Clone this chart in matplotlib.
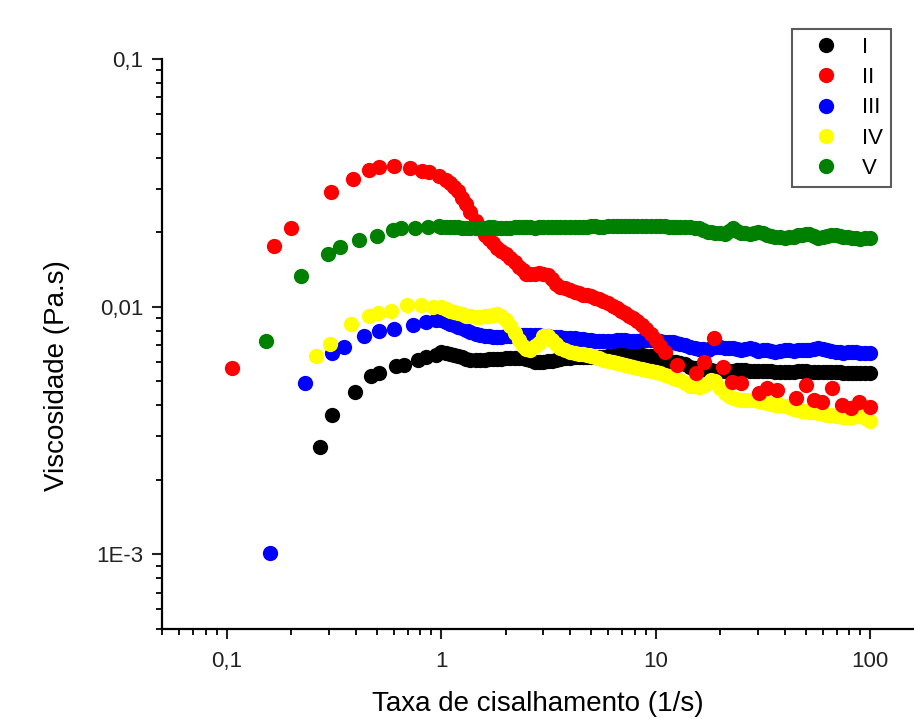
import matplotlib
matplotlib.use('Agg')
import matplotlib.pyplot as plt
from matplotlib.ticker import LogLocator, NullFormatter

plt.rcParams['font.family'] = ['Liberation Sans', 'DejaVu Sans']

# shared shear rate grid (1/s) for the dense part of the curves (1 to 100)
shear_rate = [1.0, 1.05, 1.1, 1.15, 1.2, 1.25, 1.3, 1.37, 1.45, 1.52,
              1.6, 1.67, 1.75, 1.82, 1.9, 2.0, 2.1, 2.2, 2.3, 2.4,
              2.5, 2.6, 2.75, 2.87, 3.0, 3.15, 3.3, 3.45, 3.6, 3.8,
              4.0, 4.2, 4.4, 4.6, 4.8, 5.0, 5.2, 5.45, 5.7, 6.0,
              6.3, 6.6, 6.9, 7.2, 7.5, 7.85, 8.2, 8.6, 9.0, 9.5,
              10, 10.5, 11, 11.5, 12, 12.5, 13, 13.7, 14.5, 15.2,
              16, 16.7, 17.5, 18.2, 19, 20, 21, 22, 23, 24,
              25, 26.2, 27.5, 28.7, 30, 31.5, 33, 34.5, 36, 38,
              40, 42, 44, 46, 48, 50, 52, 54.5, 57, 60,
              63, 66, 69, 72, 75, 78.5, 82, 86, 90, 95,
              100]

# I (black)
x_low_1 = [0.273, 0.311, 0.395, 0.472, 0.516, 0.617, 0.675, 0.778, 0.851, 0.948]
y_low_1 = [0.00271, 0.00366, 0.00452, 0.00526, 0.0054, 0.00574, 0.00583, 0.00611, 0.00626, 0.0064]
visc_1 = [0.00658, 0.00652, 0.00646, 0.0064, 0.00634, 0.00625, 0.00617, 0.00611, 0.00611, 0.00611,
          0.00611, 0.00614, 0.00617, 0.00617, 0.00617, 0.0062, 0.00622, 0.00622, 0.00622, 0.0062,
          0.00617, 0.00611, 0.00599, 0.00599, 0.00599, 0.00602, 0.00605, 0.00611, 0.00617, 0.0062,
          0.00622, 0.00625, 0.00628, 0.00628, 0.00628, 0.00628, 0.00628, 0.00628, 0.00628, 0.00631,
          0.00634, 0.00637, 0.0064, 0.00637, 0.00634, 0.00637, 0.0064, 0.00637, 0.00634, 0.00631,
          0.00628, 0.0062, 0.00611, 0.00605, 0.00599, 0.00597, 0.00594, 0.00585, 0.00573, 0.00567,
          0.00562, 0.0056, 0.00557, 0.00555, 0.00552, 0.00552, 0.00552, 0.00552, 0.00552, 0.00555,
          0.00557, 0.00555, 0.00552, 0.00552, 0.00552, 0.00552, 0.00552, 0.0055, 0.00547, 0.00547,
          0.00547, 0.00547, 0.00547, 0.0055, 0.00552, 0.0055, 0.00547, 0.00547, 0.00547, 0.00547,
          0.00547, 0.00547, 0.00547, 0.00545, 0.00542, 0.00542, 0.00542, 0.00542, 0.00542, 0.00542,
          0.00542]

# II (red) - own shear rates, scattered at high rates
x_2 = [0.106, 0.166, 0.200, 0.307, 0.388, 0.463, 0.512, 0.601, 0.714, 0.816, 0.882, 0.98,
       1.05, 1.1, 1.15, 1.2, 1.25, 1.3, 1.37, 1.45, 1.52, 1.6,
       1.67, 1.75, 1.82, 1.9, 2.0, 2.1, 2.2, 2.3, 2.4, 2.5,
       2.6, 2.75, 2.87, 3.0, 3.15, 3.3, 3.45, 3.6, 3.8, 4.0,
       4.2, 4.4, 4.6, 4.8, 5.0, 5.2, 5.45, 5.7, 6.0, 6.3,
       6.6, 6.9, 7.2, 7.5, 7.85, 8.2, 8.6, 9.0, 9.5, 10,
       10.5, 11,
       12.6, 15.5, 16.8, 18.8, 20.6, 22.7, 25.0, 30.4, 33.1, 36.9, 45.2, 50.3, 54.8, 59.7,
       66.5, 74.0, 81.5, 88.8, 100]
y_2 = [0.00567, 0.0176, 0.0207, 0.0291, 0.0328, 0.0358, 0.0367, 0.0371, 0.0363, 0.0354, 0.0349, 0.0336,
       0.0326, 0.0317, 0.0303, 0.0292, 0.0276, 0.0261, 0.0242, 0.0221, 0.0207, 0.0194,
       0.0188, 0.0180, 0.0173, 0.0168, 0.0164, 0.0158, 0.0152, 0.0145, 0.0141, 0.0136,
       0.0135, 0.0136, 0.0137, 0.0135, 0.0134, 0.0130, 0.0124, 0.0120, 0.0119, 0.0117,
       0.0115, 0.0114, 0.0112, 0.0111, 0.0110, 0.0108, 0.0107, 0.0105, 0.0104, 0.0101,
       0.0099, 0.00963, 0.00946, 0.0092, 0.00903, 0.00878, 0.00846, 0.00815, 0.00778, 0.00736,
       0.00696, 0.00658,
       0.00583, 0.00541, 0.0060, 0.00749, 0.00572, 0.00498, 0.00493, 0.00449, 0.00471, 0.00462,
       0.00429, 0.00484, 0.00421, 0.00413, 0.00471, 0.00402, 0.00391, 0.00413, 0.00394]

# III (blue)
x_low_3 = [0.159, 0.233, 0.311, 0.354, 0.436, 0.516, 0.606, 0.738, 0.851, 0.948]
y_low_3 = [0.00101, 0.00494, 0.0065, 0.00688, 0.00764, 0.00795, 0.00813, 0.0084, 0.00864, 0.0088]
visc_3 = [0.0088, 0.00867, 0.00854, 0.00842, 0.0083, 0.00818, 0.00807, 0.00792, 0.00778, 0.0077,
          0.00763, 0.0076, 0.00756, 0.00756, 0.00756, 0.0076, 0.00763, 0.00767, 0.0077, 0.0077,
          0.0077, 0.0077, 0.0077, 0.00767, 0.00763, 0.0076, 0.00756, 0.00754, 0.00752, 0.0075,
          0.00749, 0.00745, 0.00742, 0.00739, 0.00736, 0.00733, 0.00729, 0.00729, 0.00729, 0.00729,
          0.00729, 0.00733, 0.00736, 0.00733, 0.00729, 0.00729, 0.00729, 0.00733, 0.00736, 0.00736,
          0.00736, 0.00729, 0.00722, 0.00722, 0.00722, 0.00716, 0.00709, 0.007, 0.00689, 0.00683,
          0.00677, 0.00674, 0.0067, 0.0068, 0.00689, 0.00686, 0.00683, 0.00683, 0.00683, 0.00677,
          0.0067, 0.00677, 0.00683, 0.00674, 0.00664, 0.00667, 0.0067, 0.00664, 0.00658, 0.00664,
          0.0067, 0.00667, 0.00664, 0.00667, 0.0067, 0.0067, 0.0067, 0.00677, 0.00683, 0.00677,
          0.0067, 0.00664, 0.00658, 0.00655, 0.00652, 0.00655, 0.00658, 0.00655, 0.00652, 0.00652,
          0.00652]

# IV (yellow)
x_low_4 = [0.260, 0.302, 0.381, 0.463, 0.507, 0.585, 0.692, 0.807, 0.914]
y_low_4 = [0.0063, 0.00709, 0.00851, 0.00914, 0.00943, 0.00957, 0.0102, 0.0102, 0.0100]
visc_4 = [0.0100, 0.0098, 0.00963, 0.00955, 0.00946, 0.00933, 0.0092, 0.00915, 0.00911, 0.00911,
          0.00915, 0.0092, 0.00928, 0.00937, 0.0092, 0.00886, 0.00838, 0.0078, 0.00736, 0.00696,
          0.00677, 0.0067, 0.00696, 0.00716, 0.00763, 0.0076, 0.00736, 0.0071, 0.00683, 0.00667,
          0.00658, 0.00652, 0.00646, 0.00643, 0.0064, 0.00634, 0.00628, 0.0062, 0.00611, 0.00605,
          0.00599, 0.00594, 0.00589, 0.00583, 0.00578, 0.00572, 0.00567, 0.00562, 0.00557, 0.00552,
          0.00547, 0.0054, 0.00532, 0.00524, 0.00517, 0.00512, 0.00507, 0.00493, 0.0048, 0.00477,
          0.00475, 0.0048, 0.00493, 0.00505, 0.005, 0.0047, 0.0045, 0.00438, 0.00429, 0.00425,
          0.00421, 0.00421, 0.00421, 0.00419, 0.00417, 0.00413, 0.00409, 0.00405, 0.00402, 0.004,
          0.00398, 0.00393, 0.00388, 0.00384, 0.0038, 0.00378, 0.00377, 0.00376, 0.00374, 0.0037,
          0.00367, 0.00365, 0.00363, 0.00361, 0.00359, 0.00359, 0.00359, 0.00361, 0.00363, 0.00355,
          0.00346]

# V (green)
x_low_5 = [0.152, 0.223, 0.296, 0.339, 0.416, 0.503, 0.595, 0.651, 0.757, 0.866, 0.98]
y_low_5 = [0.00729, 0.01335, 0.01637, 0.01736, 0.01865, 0.01923, 0.02034, 0.0207, 0.0208, 0.0210, 0.0211]
visc_5 = [0.0210, 0.0210, 0.0209, 0.0209, 0.0209, 0.0208, 0.0208, 0.0208, 0.0208, 0.0208,
          0.0208, 0.0209, 0.0209, 0.0208, 0.0208, 0.0208, 0.0208, 0.0209, 0.0209, 0.0209,
          0.0209, 0.0209, 0.0208, 0.0209, 0.0209, 0.0209, 0.0209, 0.0210, 0.0210, 0.0209,
          0.0209, 0.0210, 0.0210, 0.0210, 0.0210, 0.0211, 0.0211, 0.0210, 0.0210, 0.0211,
          0.0211, 0.0211, 0.0211, 0.0212, 0.0212, 0.0212, 0.0212, 0.0211, 0.0211, 0.0211,
          0.0211, 0.0211, 0.0211, 0.0210, 0.0210, 0.0210, 0.0209, 0.0209, 0.0209, 0.0208,
          0.0207, 0.0204, 0.0201, 0.0200, 0.0199, 0.0198, 0.0197, 0.0202, 0.0207, 0.0203,
          0.0199, 0.0198, 0.0197, 0.0199, 0.0201, 0.0198, 0.0195, 0.0193, 0.0192, 0.0191,
          0.0190, 0.0191, 0.0192, 0.0194, 0.0195, 0.0196, 0.0197, 0.0193, 0.0190, 0.0191,
          0.0193, 0.0194, 0.0195, 0.0193, 0.0192, 0.0191, 0.0190, 0.0189, 0.0188, 0.0189,
          0.0190]

fig = plt.figure(figsize=(9.14, 7.19), dpi=100)
ax = fig.add_axes([0.1772, 0.1252, 0.8228, 0.7927])

ms = 11
h1, = ax.plot(x_low_1 + shear_rate, y_low_1 + visc_1, 'o', color='black', ms=ms, mew=0, label='I')
h3, = ax.plot(x_low_3 + shear_rate, y_low_3 + visc_3, 'o', color='#0000FF', ms=ms, mew=0, label='III')
h4, = ax.plot(x_low_4 + shear_rate, y_low_4 + visc_4, 'o', color='#FFFF00', ms=ms, mew=0, label='IV')
h2, = ax.plot(x_2, y_2, 'o', color='#FF0000', ms=ms, mew=0, label='II')
h5, = ax.plot(x_low_5 + shear_rate, y_low_5 + visc_5, 'o', color='#008000', ms=ms, mew=0, label='V')

ax.set_xscale('log')
ax.set_yscale('log')
ax.set_xlim(0.05, 160)
ax.set_ylim(5e-4, 0.1)

ax.set_xticks([0.1, 1, 10, 100], ['0,1', '1', '10', '100'])
ax.set_yticks([1e-3, 0.01, 0.1], ['1E-3', '0,01', '0,1'])
ax.xaxis.set_minor_locator(LogLocator(base=10, subs=range(2, 10)))
ax.yaxis.set_minor_locator(LogLocator(base=10, subs=range(2, 10)))
ax.xaxis.set_minor_formatter(NullFormatter())
ax.yaxis.set_minor_formatter(NullFormatter())

for s in ['top', 'right']:
    ax.spines[s].set_visible(False)
for s in ['left', 'bottom']:
    ax.spines[s].set_linewidth(1.6)
ax.tick_params(which='major', direction='out', length=7.5, width=1.5, labelsize=16, colors='#222222')
ax.tick_params(which='minor', direction='out', length=4.5, width=1.3)
ax.tick_params(axis='x', which='major', pad=8)
ax.tick_params(axis='y', which='major', pad=6)

ax.set_xlabel('Taxa de cisalhamento (1/s)', fontsize=20, labelpad=14)
ax.set_ylabel('Viscosidade (Pa.s)', fontsize=20)
ax.yaxis.set_label_coords(-0.122, 0.444)

leg = ax.legend(handles=[h1, h2, h3, h4, h5], loc='upper right',
                bbox_to_anchor=(891 / 914, 1 - 29 / 719), bbox_transform=fig.transFigure,
                borderaxespad=0, fancybox=False, fontsize=16, labelspacing=0.42,
                handletextpad=0.44, borderpad=0.35, handlelength=2.36)
leg.get_frame().set_edgecolor('#333333')
leg.get_frame().set_linewidth(1.5)

fig.savefig('out.png', dpi=100)
